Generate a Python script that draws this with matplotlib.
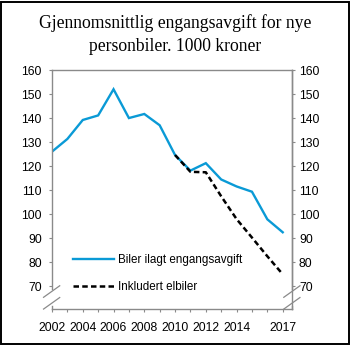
import numpy as np
import matplotlib
matplotlib.use('Agg')
import matplotlib.pyplot as plt
from matplotlib.patches import Rectangle

# average registration tax on new cars, 1000 NOK
years = np.arange(2002, 2018)
tax_all = [126.1, 131.4, 139.3, 141.2, 152.1, 140.1, 141.8, 137.1,
           124.7, 118.2, 121.3, 114.5, 111.6, 109.4, 97.9, 92.5]
years_ev = np.arange(2010, 2018)
tax_incl_ev = [124.7, 117.7, 117.5, 107.5, 98.0, 90.3, 82.5, 75.0]

label_all = 'Biler ilagt engangsavgift'
label_ev = 'Inkludert elbiler'
yticks = [70, 80, 90, 100, 110, 120, 130, 140, 150, 160]
xticks_major = [2002, 2004, 2006, 2008, 2010, 2012, 2014, 2017]

blue = '#0a9ad6'
grey = '#8a8a8a'
fs = 8.7
plt.rcParams['font.family'] = ['Liberation Sans', 'DejaVu Sans']

fig = plt.figure(figsize=(3.5, 3.45), dpi=100)
ax = fig.add_axes([0.1486, 0.1035, 0.6864, 0.6927])

ax.plot(years, tax_all, color=blue, lw=1.7, label=label_all, solid_joinstyle='miter')
ax.plot(years_ev, tax_incl_ev, color='black', lw=1.8, ls=(0, (2.2, 1.3)), label=label_ev)

x0, x1 = 2002, 2017.62
y0, y1 = 60.4, 160
ax.set_xlim(x0, x1)
ax.set_ylim(y0, y1)

ax.set_yticks(yticks)
ax.set_xticks(years, minor=True)
ax.set_xticks(xticks_major)
ax.tick_params(axis='y', direction='out', length=2.3, width=0.8, color=grey,
               labelsize=fs, pad=5)
ax.tick_params(axis='x', which='both', direction='out', length=2.3, width=0.8,
               color=grey, labelsize=fs, pad=6.5)

# right-hand axis with the same scale
ax2 = ax.twinx()
ax2.set_ylim(y0, y1)
ax2.set_yticks(yticks)
ax2.tick_params(axis='y', direction='out', length=2.3, width=0.8, color=grey,
                labelsize=fs, pad=2.5)

for a in (ax, ax2):
    for s in a.spines.values():
        s.set_color(grey)
        s.set_linewidth(1.0)
# broken y axis: spines stop above the break and restart near the bottom
ax.spines['left'].set_bounds(69, y1)
ax2.spines['right'].set_bounds(69, y1)
ax2.spines['left'].set_visible(False)
ax2.spines['top'].set_visible(False)
ax2.spines['bottom'].set_visible(False)
for xs in (x0, x1):
    ax.plot([xs, xs], [y0, 61.8], color=grey, lw=1.0, clip_on=False)
    for yc in (67.8, 62.9):
        ax.plot([xs - 0.55, xs + 0.5], [yc - 2.4, yc + 2.4], color=grey,
                lw=0.9, clip_on=False)

ax.legend(loc='upper left', bbox_to_anchor=(0.087, 0.23), frameon=False,
          fontsize=8.4, handlelength=3.5, handletextpad=0.35,
          labelspacing=1.3, borderpad=0, borderaxespad=0)

fig.text(0.5, 1 - 28.5 / 345, 'Gjennomsnittlig engangsavgift for nye',
         ha='center', va='baseline', fontsize=12.7, family='Liberation Serif')
fig.text(0.5, 1 - 51 / 345, 'personbiler. 1000 kroner',
         ha='center', va='baseline', fontsize=12.7, family='Liberation Serif')

fig.patches.append(Rectangle((0.004, 0.004), 0.992, 0.99, transform=fig.transFigure,
                             fill=False, edgecolor='black', lw=1.4))

fig.savefig('out.png', dpi=100)
